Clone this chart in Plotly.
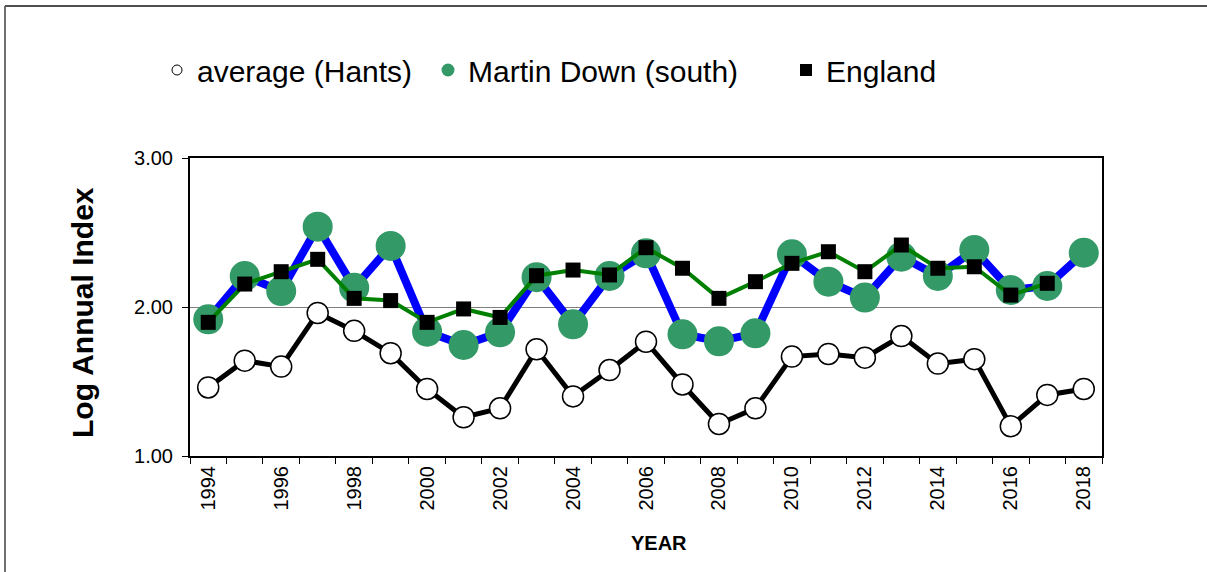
import plotly.graph_objects as go

years = list(range(1994, 2019))
hants = [1.46, 1.64, 1.60, 1.96, 1.84, 1.69, 1.45, 1.26, 1.32, 1.716, 1.40, 1.577, 1.767,
         1.48, 1.215, 1.32, 1.667, 1.685, 1.66, 1.805, 1.62, 1.65, 1.20, 1.41, 1.45]
martin = [1.917, 2.208, 2.107, 2.539, 2.13, 2.41, 1.834, 1.745, 1.83, 2.20, 1.884, 2.208, 2.36,
          1.817, 1.77, 1.823, 2.354, 2.17, 2.063, 2.338, 2.208, 2.383, 2.114, 2.141, 2.364]
england = [1.897, 2.154, 2.237, 2.32, 2.058, 2.043, 1.897, 1.987, 1.93, 2.21, 2.248, 2.215, 2.398,
           2.26, 2.058, 2.17, 2.293, 2.371, 2.237, 2.416, 2.26, 2.27, 2.08, 2.159, None]
year_labels = [str(y) for y in range(1994, 2019, 2)]
names = ["average (Hants)", "Martin Down (south)", "England"]

W, H = 1207, 572
ML, MR, MT, MB = 190, 105, 158, 116
PW, PH = W - ML - MR, H - MT - MB

def px(x):
    return (x - ML) / PW

def py(y):
    return (H - MB - y) / PH

fig = go.Figure()

# Martin Down: blue line, green circles
fig.add_trace(go.Scatter(x=years, y=martin, mode="lines+markers", showlegend=False,
                         line=dict(color="#0000FF", width=8),
                         marker=dict(symbol="circle", size=30, color="#339966",
                                     line=dict(width=0))))
# England: green line, black squares
fig.add_trace(go.Scatter(x=years, y=england, mode="lines+markers", showlegend=False,
                         line=dict(color="#008000", width=4),
                         marker=dict(symbol="square", size=15, color="black",
                                     line=dict(width=0))))
# Hants: black line, white circles
fig.add_trace(go.Scatter(x=years, y=hants, mode="lines+markers", showlegend=False,
                         line=dict(color="black", width=5),
                         marker=dict(symbol="circle", size=21, color="white",
                                     line=dict(color="black", width=1.5))))

# legend-only entries
fig.add_trace(go.Scatter(x=[None], y=[None], mode="markers", name=names[0], legend="legend",
                         marker=dict(symbol="circle", size=10, color="white",
                                     line=dict(color="black", width=1))))
fig.add_trace(go.Scatter(x=[None], y=[None], mode="markers", name=names[1], legend="legend2",
                         marker=dict(symbol="circle", size=13, color="#339966",
                                     line=dict(width=0))))
fig.add_trace(go.Scatter(x=[None], y=[None], mode="markers", name=names[2], legend="legend3",
                         marker=dict(symbol="square", size=12, color="black",
                                     line=dict(width=0))))

FONT = "Liberation Sans, Arial, sans-serif"
leg_common = dict(orientation="h", yanchor="middle", xanchor="left", y=py(70),
                  font=dict(family=FONT, size=30, color="black"),
                  bgcolor="rgba(0,0,0,0)", borderwidth=0)

fig.update_layout(
    width=W, height=H,
    margin=dict(l=ML, r=MR, t=MT, b=MB, autoexpand=False),
    paper_bgcolor="white", plot_bgcolor="white",
    font=dict(family=FONT, color="black"),
    legend=dict(x=px(157), **leg_common),
    legend2=dict(x=px(428), **leg_common),
    legend3=dict(x=px(786), **leg_common),
    xaxis=dict(range=[1993.5, 2018.5], tickmode="array",
               tickvals=list(range(1994, 2019, 2)), ticktext=year_labels,
               tickangle=-90, ticks="outside", ticklen=0,
               tickfont=dict(family=FONT, size=20, color="black"),
               showgrid=False, zeroline=False,
               showline=True, linecolor="black", linewidth=2, mirror=True,
               minor=dict(tickmode="linear", tick0=1993.5, dtick=1, ticks="outside",
                          ticklen=6, tickcolor="black", tickwidth=1, showgrid=False)),
    yaxis=dict(range=[1, 3], tickmode="array", tickvals=[1, 2, 3],
               tickformat=".2f", ticks="outside", ticklen=6, tickcolor="black",
               ticklabelstandoff=5,
               tickfont=dict(family=FONT, size=20, color="black"),
               showgrid=True, gridcolor="#808080", gridwidth=1, zeroline=False,
               showline=True, linecolor="black", linewidth=2, mirror=True),
    annotations=[
        dict(text="<b>Log Annual Index</b>", x=px(82), y=py(313), xref="paper", yref="paper",
             textangle=-90, showarrow=False, xanchor="center", yanchor="middle",
             font=dict(family=FONT, size=30, color="black")),
        dict(text="<b>YEAR</b>", x=px(659), y=py(543), xref="paper", yref="paper",
             showarrow=False, xanchor="center", yanchor="middle",
             font=dict(family=FONT, size=20, color="black")),
    ],
    shapes=[
        dict(type="line", xref="paper", yref="paper", x0=px(5), x1=px(5),
             y0=py(6), y1=py(572), line=dict(color="#707070", width=2)),
        dict(type="line", xref="paper", yref="paper", x0=px(5), x1=px(1207),
             y0=py(6), y1=py(6), line=dict(color="#505050", width=2)),
    ],
)

fig.write_html("out.html", config={"displayModeBar": False},
               post_script="document.body.style.margin='0';")
